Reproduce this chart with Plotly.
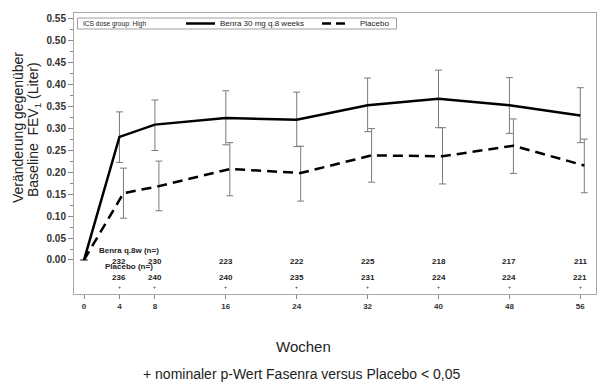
import plotly.graph_objects as go

weeks = [0, 4, 8, 16, 24, 32, 40, 48, 56]
benra_mean = [0.000, 0.280, 0.308, 0.323, 0.319, 0.352, 0.367, 0.352, 0.329]
benra_upper = [None, 0.337, 0.364, 0.385, 0.382, 0.414, 0.432, 0.415, 0.392]
benra_lower = [None, 0.222, 0.249, 0.262, 0.258, 0.292, 0.301, 0.288, 0.267]
placebo_mean = [0.000, 0.152, 0.168, 0.207, 0.198, 0.238, 0.236, 0.260, 0.215]
placebo_upper = [None, 0.209, 0.225, 0.267, 0.259, 0.299, 0.301, 0.321, 0.275]
placebo_lower = [None, 0.095, 0.112, 0.146, 0.134, 0.177, 0.173, 0.197, 0.153]
benra_n = [232, 230, 223, 222, 225, 218, 217, 211]
placebo_n = [236, 240, 240, 235, 231, 224, 224, 221]
n_weeks = [4, 8, 16, 24, 32, 40, 48, 56]
ytick_vals = [0.00, 0.05, 0.10, 0.15, 0.20, 0.25, 0.30, 0.35, 0.40, 0.45, 0.50, 0.55]
series_names = ["Benra 30 mg q.8 weeks", "Placebo"]
legend_title = "ICS dose group: High"

PLACEBO_OFFSET = 0.45
placebo_x = [w + PLACEBO_OFFSET if w > 0 else w for w in weeks]


def err_plus(m, u):
    return [None if b is None else b - a for a, b in zip(m, u)]


def err_minus(m, l):
    return [None if b is None else a - b for a, b in zip(m, l)]


FONT = "Liberation Sans, Arial, sans-serif"
W, H = 605, 389
L, R, T, B = 74, 596, 13, 294
DASH = "10px,6px"


def px(x):
    return (x - L) / (R - L)


def py(y):
    return (B - y) / (B - T)


fig = go.Figure()
fig.add_trace(go.Scatter(
    x=weeks, y=benra_mean, mode="lines", name=series_names[0],
    line=dict(color="black", width=2.5),
    error_y=dict(type="data", array=err_plus(benra_mean, benra_upper),
                 arrayminus=err_minus(benra_mean, benra_lower),
                 color="#7a7a7a", thickness=1, width=3.5),
))
fig.add_trace(go.Scatter(
    x=placebo_x, y=placebo_mean, mode="lines", name=series_names[1],
    line=dict(color="black", width=2.5, dash=DASH),
    error_y=dict(type="data", array=err_plus(placebo_mean, placebo_upper),
                 arrayminus=err_minus(placebo_mean, placebo_lower),
                 color="#7a7a7a", thickness=1, width=3.5),
))

ann = []
bold = dict(family=FONT, size=8, color="#222222", weight="bold")
ann.append(dict(x=px(129), y=py(250), xref="paper", yref="paper", text="Benra q.8w (n=)",
                showarrow=False, font=bold, xanchor="center", yanchor="middle"))
ann.append(dict(x=px(129), y=py(266.5), xref="paper", yref="paper", text="Placebo (n=)",
                showarrow=False, font=bold, xanchor="center", yanchor="middle"))
for w, n in zip(n_weeks, benra_n):
    ann.append(dict(x=w, y=py(261.5), xref="x", yref="paper", text=str(n), showarrow=False,
                    font=bold, xanchor="center", yanchor="middle"))
for w, n in zip(n_weeks, placebo_n):
    ann.append(dict(x=w, y=py(277.5), xref="x", yref="paper", text=str(n), showarrow=False,
                    font=bold, xanchor="center", yanchor="middle"))
    ann.append(dict(x=w, y=py(286.5), xref="x", yref="paper", text="+", showarrow=False,
                    font=dict(family=FONT, size=5, color="#333333"),
                    xanchor="center", yanchor="middle"))

# y-axis title (two lines)
ann.append(dict(x=px(18), y=py(128), xref="paper", yref="paper",
                text="Veränderung gegenüber",
                textangle=-90, showarrow=False, xanchor="center", yanchor="middle",
                font=dict(family=FONT, size=14, color="#222222")))
ann.append(dict(x=px(34), y=py(130), xref="paper", yref="paper",
                text="Baseline  FEV<sub>1</sub> (Liter)",
                textangle=-90, showarrow=False, xanchor="center", yanchor="middle",
                font=dict(family=FONT, size=14, color="#222222")))
ann.append(dict(x=px(303), y=py(346), xref="paper", yref="paper", text="Wochen",
                showarrow=False, xanchor="center", yanchor="middle",
                font=dict(family=FONT, size=15, color="#222222")))
ann.append(dict(x=px(301), y=py(374), xref="paper", yref="paper",
                text="+ nominaler p-Wert Fasenra versus Placebo < 0,05",
                showarrow=False, xanchor="center", yanchor="middle",
                font=dict(family=FONT, size=14, color="#222222")))

# legend (drawn manually to match the compact box)
LEG_Y = 23.5
leg_font = dict(family=FONT, size=8, color="#222222")
ann.append(dict(x=px(80.5), y=py(LEG_Y), xref="paper", yref="paper", text=legend_title,
                showarrow=False, xanchor="left", yanchor="middle",
                font=dict(family=FONT, size=6.6, color="#222222")))
ann.append(dict(x=px(217.5), y=py(LEG_Y), xref="paper", yref="paper", text=series_names[0],
                showarrow=False, xanchor="left", yanchor="middle", font=leg_font))
ann.append(dict(x=px(357.5), y=py(LEG_Y), xref="paper", yref="paper", text=series_names[1],
                showarrow=False, xanchor="left", yanchor="middle", font=leg_font))
shapes = [
    dict(type="rect", xref="paper", yref="paper", x0=px(77.5), x1=px(396.5),
         y0=py(29), y1=py(18), line=dict(color="#a0a0a0", width=1), fillcolor="white"),
    dict(type="line", xref="paper", yref="paper", x0=px(186), x1=px(215),
         y0=py(LEG_Y), y1=py(LEG_Y), line=dict(color="black", width=2.5)),
    dict(type="line", xref="paper", yref="paper", x0=px(322), x1=px(347),
         y0=py(LEG_Y), y1=py(LEG_Y), line=dict(color="black", width=2.5, dash="9px,5px")),
]

fig.update_layout(
    width=W, height=H,
    margin=dict(l=L, r=W - R, t=T, b=H - B, pad=0),
    paper_bgcolor="white", plot_bgcolor="white",
    font=dict(family=FONT, color="#222222"),
    showlegend=False,
    xaxis=dict(
        range=[-1.13, 57.77], tickmode="array", tickvals=weeks,
        ticktext=[str(w) for w in weeks],
        ticks="outside", ticklen=4, tickcolor="#888888",
        tickfont=dict(family=FONT, size=8, color="#333333", weight="bold"),
        showline=True, linecolor="#a8a8a8", linewidth=1, mirror=True,
        showgrid=False, zeroline=False,
    ),
    yaxis=dict(
        range=[-0.0774, 0.562], tickmode="array", tickvals=ytick_vals,
        ticktext=["%.2f" % v for v in ytick_vals],
        ticks="outside", ticklen=5, tickcolor="#888888",
        minor=dict(tickmode="array", tickvals=[v + 0.025 for v in ytick_vals[:-1]],
                   ticks="outside", ticklen=3, tickcolor="#888888"),
        tickfont=dict(family=FONT, size=10, color="#333333", weight="bold"),
        showline=True, linecolor="#a8a8a8", linewidth=1, mirror=True,
        showgrid=False, zeroline=False,
    ),
    annotations=ann,
    shapes=shapes,
)

fig.write_html("out.html", config={"displayModeBar": False},
               post_script="document.body.style.margin='0';")
